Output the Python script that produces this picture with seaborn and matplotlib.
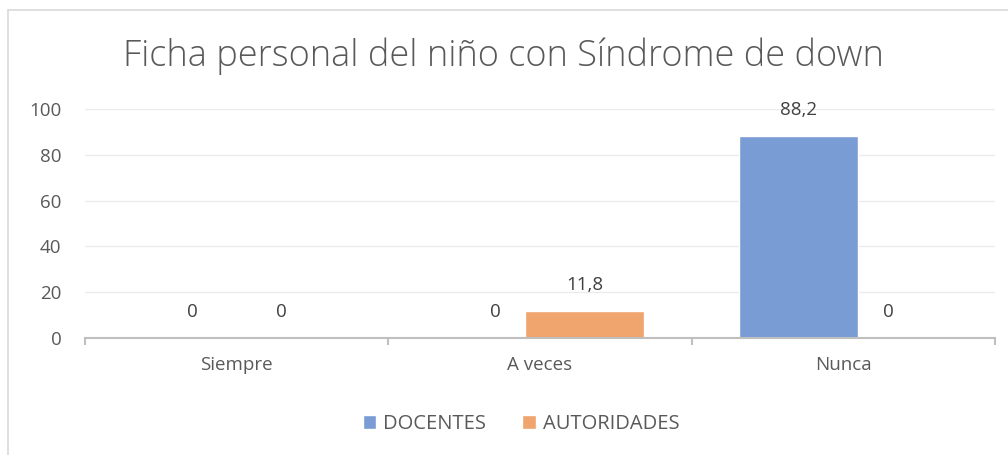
import matplotlib
matplotlib.use('Agg')
import matplotlib.pyplot as plt
import seaborn as sns
import pandas as pd
from matplotlib.lines import Line2D

# Datos
categorias = ['Siempre', 'A veces', 'Nunca']
docentes = [0, 0, 88.2]
autoridades = [0, 11.8, 0]
series = ['DOCENTES', 'AUTORIDADES']
colores = ['#7A9CD4', '#F0A46E']

df = pd.DataFrame({
    'categoria': categorias * 2,
    'valor': docentes + autoridades,
    'grupo': [series[0]] * 3 + [series[1]] * 3,
})

sns.set_theme(style='white')
plt.rcParams['font.family'] = ['Open Sans', 'DejaVu Sans']

fig = plt.figure(figsize=(10.08, 4.55), dpi=100)
ax = fig.add_axes([85 / 1008, 1 - 338 / 455, 910 / 1008, 229 / 455])

sns.barplot(data=df, x='categoria', y='valor', hue='grupo', order=categorias,
            hue_order=series, palette=colores, width=0.59, dodge=True,
            saturation=1, ax=ax, legend=True)

# ancho de barra como en el original
ancho = 0.392
for p in ax.patches:
    if p.get_width() == 0:
        continue
    c = p.get_x() + p.get_width() / 2
    p.set_width(ancho)
    p.set_x(c - ancho / 2)

# etiquetas de datos
for cont in ax.containers:
    labels = [f'{v:g}'.replace('.', ',') for v in cont.datavalues]
    ax.bar_label(cont, labels=labels, padding=12, fontsize=13.5, color='#404040')

ax.set_ylim(0, 100)
ax.set_xlim(-0.5, 2.5)
ax.set_yticks([0, 20, 40, 60, 80, 100])
ax.yaxis.grid(True, color='#EBEBEB', linewidth=1)
ax.set_axisbelow(True)
for s in ['top', 'right', 'left']:
    ax.spines[s].set_visible(False)
ax.spines['bottom'].set_color('#BFBFBF')
ax.spines['bottom'].set_linewidth(1.5)
ax.tick_params(axis='y', length=0, pad=17, labelsize=13.5, labelcolor='#595959')
ax.tick_params(axis='x', length=0, pad=13, labelsize=13.5, labelcolor='#595959')
ax.set_xticks([-0.5, 0.5, 1.5, 2.5], minor=True)
ax.tick_params(axis='x', which='minor', bottom=True, length=5, width=1.5,
               color='#BFBFBF', direction='out')
ax.set_xlabel('')
ax.set_ylabel('')

fig.suptitle('Ficha personal del niño con Síndrome de down', x=0.499, y=1 - 56 / 455,
             va='center', fontsize=26, color='#595959', fontweight='light')

ax.legend(loc='center', bbox_to_anchor=(0.517, 1 - 424 / 455), bbox_transform=fig.transFigure,
          ncol=2, frameon=False, fontsize=14.5, labelcolor='#595959',
          handlelength=0.65, handleheight=0.65, handletextpad=0.35, columnspacing=1.8)

# borde del gráfico
fig.add_artist(Line2D([8 / 1008, 1], [1 - 10 / 455, 1 - 10 / 455], color='#D9D9D9', lw=1.2))
fig.add_artist(Line2D([8 / 1008, 8 / 1008], [0, 1 - 10 / 455], color='#D9D9D9', lw=1.2))

plt.savefig('out.png', dpi=100)
